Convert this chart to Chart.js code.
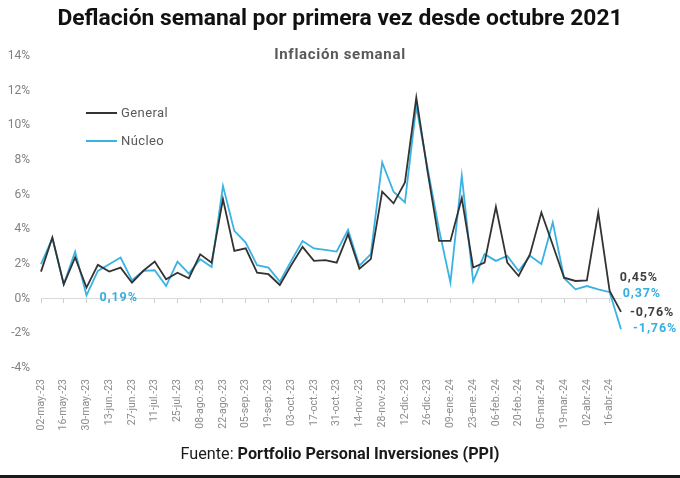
<!DOCTYPE html>
<html>
<head>
<meta charset="utf-8">
<script src="https://cdn.jsdelivr.net/npm/chart.js@4.4.1/dist/chart.umd.min.js"></script>
<style>
  html, body { margin:0; padding:0; background:#fff; }
  #wrap { position:relative; width:680px; height:478px; overflow:hidden; font-family: Roboto, "Liberation Sans", Arial, sans-serif; }
  #c { position:absolute; left:0; top:0; }
  #title { position:absolute; left:0; width:680px; top:4px; text-align:center; font-size:22.8px; font-weight:700; color:#111; }
  #subtitle { position:absolute; left:0; width:680px; top:45px; text-align:center; font-size:15px; font-weight:700; color:#595959; letter-spacing:0.7px; }
  #footer { position:absolute; left:0; width:680px; top:444px; text-align:center; font-size:16.2px; color:#1a1a1a; }
  #footer b { font-weight:700; }
  #bottomline { position:absolute; left:0; width:680px; top:475px; height:3px; background:#1a1a1a; }
  .leg { position:absolute; font-size:13px; color:#595959; display:flex; align-items:center; letter-spacing:0.4px; }
  .leg span.sw { display:inline-block; width:31px; height:2px; margin-right:4px; }
</style>
</head>
<body>
<div id="wrap">
  <canvas id="c" width="680" height="478"></canvas>
  <div id="title">Deflación semanal por primera vez desde octubre 2021</div>
  <div id="subtitle">Inflación semanal</div>
  <div class="leg" style="left:86px; top:105px;"><span class="sw" style="background:#333333"></span>General</div>
  <div class="leg" style="left:86px; top:133px;"><span class="sw" style="background:#38b3e3"></span>Núcleo</div>
  <div id="footer">Fuente: <b>Portfolio Personal Inversiones (PPI)</b></div>
  <div id="bottomline"></div>
</div>
<script>
// Weekly categories (02-may-23 ... 23-abr-24); every second one is shown on the axis
const weeks = [
  "02-may.-23","09-may.-23","16-may.-23","23-may.-23","30-may.-23","06-jun.-23","13-jun.-23","20-jun.-23",
  "27-jun.-23","04-jul.-23","11-jul.-23","18-jul.-23","25-jul.-23","01-ago.-23","08-ago.-23","15-ago.-23",
  "22-ago.-23","29-ago.-23","05-sep.-23","12-sep.-23","19-sep.-23","26-sep.-23","03-oct.-23","10-oct.-23",
  "17-oct.-23","24-oct.-23","31-oct.-23","07-nov.-23","14-nov.-23","21-nov.-23","28-nov.-23","05-dic.-23",
  "12-dic.-23","19-dic.-23","26-dic.-23","02-ene.-24","09-ene.-24","16-ene.-24","23-ene.-24","30-ene.-24",
  "06-feb.-24","13-feb.-24","20-feb.-24","27-feb.-24","05-mar.-24","12-mar.-24","19-mar.-24","26-mar.-24",
  "02-abr.-24","09-abr.-24","16-abr.-24","23-abr.-24"
];

const general = [
  1.56, 3.53, 0.83, 2.38, 0.64, 1.95, 1.56, 1.79,
  0.92, 1.61, 2.14, 1.12, 1.50, 1.18, 2.56, 2.08,
  5.75, 2.76, 2.90, 1.50, 1.41, 0.79, 1.93, 2.99,
  2.18, 2.22, 2.08, 3.72, 1.73, 2.28, 6.17, 5.50,
  6.70, 11.60, 7.30, 3.33, 3.33, 5.80, 1.80, 2.08,
  5.30, 2.08, 1.31, 2.57, 4.97, 3.10, 1.21, 1.02,
  1.06, 4.97, 0.45, -0.76
];

const nucleo = [
  1.99, 3.49, 0.83, 2.72, 0.19, 1.60, 1.99, 2.37,
  1.06, 1.60, 1.64, 0.73, 2.14, 1.45, 2.28, 1.83,
  6.51, 3.91, 3.24, 1.93, 1.79, 0.98, 2.18, 3.33,
  2.90, 2.81, 2.72, 3.97, 1.90, 2.57, 7.86, 6.17,
  5.55, 11.10, 7.50, 4.00, 0.93, 7.10, 1.00, 2.57,
  2.18, 2.47, 1.60, 2.47, 2.00, 4.40, 1.18, 0.54,
  0.73, 0.54, 0.37, -1.76
];

const yTicks = [-4, -2, 0, 2, 4, 6, 8, 10, 12, 14];

const BLACK = '#333333';
const BLUE = '#38b3e3';

// Which points get a value label (dataset index, point index, offsets in px)
const callouts = [
  { ds: 1, i: 4,  dx: 13, dy: 3,  color: '#35aee0' },
  { ds: 0, i: 50, dx: 10, dy: -13, color: '#404040' },
  { ds: 1, i: 50, dx: 13, dy: 2,  color: '#35aee0' },
  { ds: 0, i: 51, dx: 9,  dy: 1,  color: '#404040' },
  { ds: 1, i: 51, dx: 12, dy: 0,  color: '#35aee0' }
];

const fmt = v => v.toFixed(2).replace('.', ',') + '%';

const calloutPlugin = {
  id: 'callouts',
  afterDatasetsDraw(chart) {
    const ctx = chart.ctx;
    ctx.save();
    ctx.font = 'bold 12.5px Roboto, "Liberation Sans", Arial, sans-serif';
    try { ctx.letterSpacing = '0.9px'; } catch (e) {}
    ctx.textAlign = 'left';
    ctx.textBaseline = 'middle';
    callouts.forEach(c => {
      const meta = chart.getDatasetMeta(c.ds);
      const pt = meta.data[c.i];
      const v = chart.data.datasets[c.ds].data[c.i];
      ctx.fillStyle = c.color;
      ctx.fillText(fmt(v), pt.x + c.dx, pt.y + c.dy);
    });
    ctx.restore();
  }
};

new Chart(document.getElementById('c'), {
  type: 'line',
  data: {
    labels: weeks,
    datasets: [
      { label: 'General', data: general, borderColor: BLACK, borderWidth: 1.8, pointRadius: 0, tension: 0, fill: false, order: 1 },
      { label: 'Núcleo', data: nucleo, borderColor: BLUE, borderWidth: 1.8, pointRadius: 0, tension: 0, fill: false, order: 2 }
    ]
  },
  options: {
    responsive: false,
    animation: false,
    events: [],
    layout: { padding: { left: 0, top: 56, right: 59, bottom: 40 } },
    plugins: { legend: { display: false }, tooltip: { enabled: false }, title: { display: false } },
    scales: {
      y: {
        min: -4, max: 14,
        afterBuildTicks: s => { s.ticks = yTicks.map(v => ({ value: v })); },
        afterFit: s => { s.width = 41; },
        grid: { display: false, drawTicks: false },
        border: { display: false },
        ticks: {
          padding: 11,
          color: '#808080',
          font: { size: 12, family: 'Roboto, "Liberation Sans", Arial, sans-serif' },
          callback: v => v + '%'
        }
      },
      x: {
        position: 'bottom',
        offset: false,
        afterFit: s => { s.height = 70; },
        grid: { display: false },
        border: { display: false },
        ticks: {
          autoSkip: false,
          minRotation: 90, maxRotation: 90,
          padding: 3,
          color: '#8c8c8c',
          font: { size: 10.5, family: 'Roboto, "Liberation Sans", Arial, sans-serif' },
          callback: function(v, i) { return i % 2 === 0 ? this.getLabelForValue(v) : ''; }
        }
      },
      x0: {
        type: 'category',
        position: { y: 0 },
        offset: false,
        grid: {
          drawOnChartArea: false,
          drawTicks: true,
          tickLength: 4,
          color: ctx => (ctx.index % 2 === 0 ? '#d0d0d0' : 'rgba(0,0,0,0)')
        },
        border: { display: true, color: '#d9d9d9', width: 1 },
        ticks: { display: false, autoSkip: false }
      }
    }
  },
  plugins: [calloutPlugin]
});
</script>
</body>
</html>
